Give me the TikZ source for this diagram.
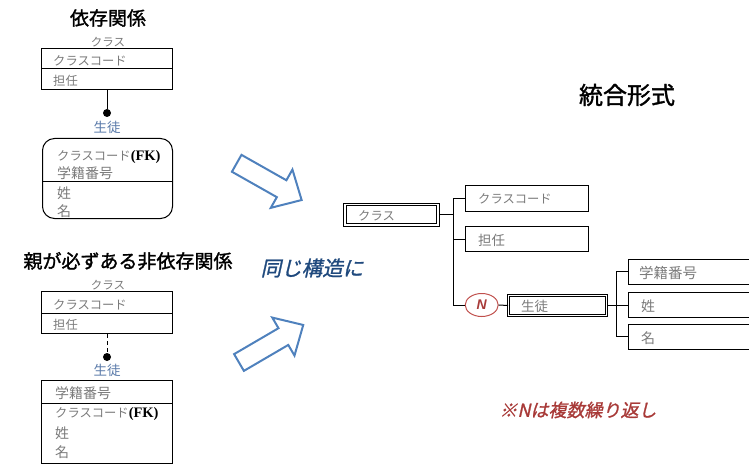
\documentclass[tikz,border=0pt]{standalone}
\usepackage{fontspec}
\setmainfont{Noto Sans CJK JP}
\newfontfamily\jpsl[FakeSlant=0.22]{Noto Sans CJK JP}
\newfontfamily\jpslb[FakeSlant=0.22,FakeBold=1.2]{Noto Sans CJK JP}
\newfontfamily\jpb[FakeBold=1.5]{Noto Sans CJK JP}
\newfontfamily\serifb{Liberation Serif}
\newfontfamily\lsans{Liberation Sans}
\usetikzlibrary{shapes.geometric}
\definecolor{txtgray}{HTML}{7A7A7A}
\definecolor{subblue}{HTML}{5B7BAA}
\definecolor{arrblue}{HTML}{4F81BD}
\definecolor{navy}{HTML}{1F497D}
\definecolor{nred}{HTML}{C0504D}
\definecolor{ntext}{HTML}{A83A38}
\begin{document}
\begin{tikzpicture}[x=1pt,y=-1pt,
  title/.style={font=\jpb\fontsize{19}{19}\selectfont, inner sep=0},
  enttitle/.style={font=\fontsize{11.5}{11.5}\selectfont, text=txtgray, inner sep=0},
  lbl/.style={font=\fontsize{12.3}{12.3}\selectfont, text=txtgray, inner sep=0, anchor=west},
  ent/.style={draw, line width=1pt, anchor=north west, inner sep=0},
  dotn/.style={circle, fill, inner sep=0, minimum size=8pt},
  sub/.style={text=subblue, font=\fontsize{13.5}{13.5}\selectfont, inner sep=0},
  dbl/.style={draw, line width=1pt, double, double distance=1.6pt, inner sep=0},
  sbox/.style={draw, line width=1pt, inner sep=0, minimum width=123pt, minimum height=25pt},
  tbox/.style={draw, line width=1pt, inner sep=0, minimum width=130pt, minimum height=25pt, anchor=west},
  conn/.style={line width=1pt},
  barrow/.style={draw=arrblue, line width=2pt, line join=miter}
]
\useasboundingbox (0,0) rectangle (749,465);
\clip (0,0) rectangle (749,465);

% ---------- upper left: dependent relation ----------
\node[title] (t1) at (108,18) {依存関係};
\node[enttitle] (c1n) at (108,42) {クラス};
\node[ent, minimum width=131pt, minimum height=41pt] (c1) at (41,48) {};
\draw[line width=1pt] (41,69) -- (172,69);
\node[lbl] (c1a) at (53,61) {クラスコード};
\node[lbl] (c1b) at (53,81) {担任};
\node[dotn] (d1) at (107,113) {};
\draw[conn] (c1.south) -- (d1);
\node[sub] (s1n) at (107,127) {生徒};
\node[ent, rounded corners=12pt, minimum width=130pt, minimum height=80pt] (s1) at (42,138) {};
\draw[line width=1pt] (42,182) -- (172,182);
\node[lbl] (s1a) at (57,157) {クラスコード\textcolor{black}{\serifb\bfseries\fontsize{14.5}{14.5}\selectfont (FK)}};
\node[lbl] (s1b) at (57,173) {\fontsize{14}{14}\selectfont 学籍番号};
\node[lbl] (s1c) at (57,193) {\fontsize{14}{14}\selectfont 姓};
\node[lbl] (s1d) at (57,211) {\fontsize{14}{14}\selectfont 名};

% ---------- lower left: non-dependent relation ----------
\node[title] (t2) at (128,261) {親が必ずある非依存関係};
\node[enttitle] (c2n) at (108,285) {クラス};
\node[ent, minimum width=131pt, minimum height=42pt] (c2) at (41,291) {};
\draw[line width=1pt] (41,313) -- (172,313);
\node[lbl] (c2a) at (53,305) {クラスコード};
\node[lbl] (c2b) at (53,325) {担任};
\node[dotn] (d2) at (107,357) {};
\draw[conn, dashed, dash pattern=on 4pt off 3pt] (c2.south) -- (d2);
\node[sub] (s2n) at (107,370) {生徒};
\node[ent, minimum width=131pt, minimum height=83pt] (s2) at (41,380) {};
\draw[line width=1pt] (41,403) -- (172,403);
\node[lbl] (s2a) at (55,393) {\fontsize{14}{14}\selectfont 学籍番号};
\node[lbl] (s2b) at (55,414) {クラスコード\textcolor{black}{\serifb\bfseries\fontsize{14.5}{14.5}\selectfont (FK)}};
\node[lbl] (s2c) at (55,433) {\fontsize{14}{14}\selectfont 姓};
\node[lbl] (s2d) at (55,452) {\fontsize{14}{14}\selectfont 名};

% ---------- block arrows ----------
\begin{scope}[shift={(236.7,163.3)}, rotate=-29.5]
  \draw[barrow] (0,-9.7) -- (51.6,-9.7) -- (51.6,-22) -- (74.6,0) -- (51.6,22) -- (51.6,9.7) -- (0,9.7) -- cycle;
\end{scope}
\begin{scope}[shift={(239,362.5)}, rotate=30.3]
  \draw[barrow] (0,-9.7) -- (51.4,-9.7) -- (51.4,-22) -- (74.4,0) -- (51.4,22) -- (51.4,9.7) -- (0,9.7) -- cycle;
\end{scope}
\node[inner sep=0, text=navy, font=\jpslb\fontsize{20.5}{20.5}\selectfont] (same) at (312,268) {同じ構造に};

% ---------- right: integrated form ----------
\node[inner sep=0, font=\jpb\fontsize{24}{24}\selectfont] (t3) at (627,95) {統合形式};

\node[dbl, minimum width=93.5pt, minimum height=20.5pt] (rc) at (391.5,214.7) {};
\node[lbl] (rcl) at (358,216) {クラス};
\node[sbox] (rk) at (526.5,198.5) {};
\node[lbl] (rkl) at (478,199) {クラスコード};
\node[sbox] (rt) at (526.5,239) {};
\node[lbl] (rtl) at (478,240) {\fontsize{13.5}{13.5}\selectfont 担任};
\node[ellipse, draw=nred, line width=1pt, minimum width=33pt, minimum height=23pt, inner sep=0,
      font=\lsans\bfseries\itshape\fontsize{14}{14}\selectfont, text=ntext] (nn) at (481.7,305) {N};
\node[dbl, minimum width=98pt, minimum height=20pt] (rs) at (557.5,305.5) {};
\node[lbl] (rsl) at (521,306) {\fontsize{13.5}{13.5}\selectfont 生徒};

\coordinate (vtop) at (453,198.5);
\coordinate (vbot) at (453,305);
\draw[conn] (vtop) -- (vbot);
\draw[conn] (rc.east) -- (rc.east -| vtop);
\draw[conn] (vtop) -- (rk.west);
\draw[conn] (rt.west -| vtop) -- (rt.west);
\draw[conn] (vbot) -- (nn.west);
\draw[conn] (nn.east) -- (rs.west);

\node[tbox] (ra) at (628,271.5) {};
\node[lbl] (ral) at (639,272.5) {\fontsize{14.5}{14.5}\selectfont 学籍番号};
\node[tbox] (rb) at (628,305) {};
\node[lbl] (rbl) at (641,306) {\fontsize{14}{14}\selectfont 姓};
\node[tbox] (rn) at (628,336.5) {};
\node[lbl] (rnl) at (641,338) {\fontsize{14}{14}\selectfont 名};

\coordinate (wtop) at (616,271.5);
\coordinate (wbot) at (616,336.5);
\draw[conn] (wtop) -- (wbot);
\draw[conn] (rs.east) -- (rs.east -| wtop);
\draw[conn] (wtop) -- (ra.west);
\draw[conn] (rb.west -| wtop) -- (rb.west);
\draw[conn] (wbot) -- (rn.west);

\node[inner sep=0, text=ntext, font=\jpslb\fontsize{18}{18}\selectfont] (note) at (578,410) {※Nは複数繰り返し};
\end{tikzpicture}
\end{document}
